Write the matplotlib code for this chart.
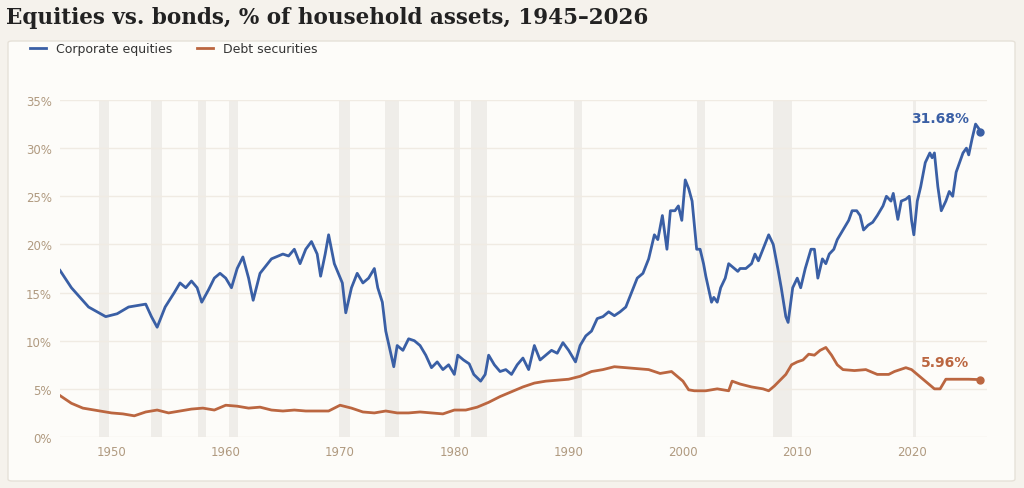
import matplotlib.pyplot as plt
from matplotlib.patches import FancyBboxPatch

# Datos
eq_years = [1945.5, 1946.5, 1948, 1949.5, 1950.5, 1951.5, 1953, 1953.5, 1954, 1954.7, 1955.5, 1956, 1956.5, 1957, 1957.5,
            1957.9, 1958.5, 1959, 1959.5, 1960, 1960.5, 1961, 1961.5, 1962, 1962.4, 1963, 1964, 1965, 1965.5, 1966,
            1966.5, 1967, 1967.5, 1968, 1968.3, 1968.7, 1969, 1969.5, 1970.2, 1970.5, 1971, 1971.5, 1972, 1972.5, 1973,
            1973.3, 1973.7, 1974, 1974.7, 1975, 1975.5, 1976, 1976.5, 1977, 1977.5, 1978, 1978.5, 1979, 1979.5, 1980,
            1980.3, 1980.8, 1981.3, 1981.7, 1982.3, 1982.7, 1983, 1983.5, 1984, 1984.5, 1985, 1985.5, 1986, 1986.5,
            1987, 1987.5, 1988, 1988.5, 1989, 1989.5, 1990, 1990.6, 1991, 1991.5, 1992, 1992.5, 1993, 1993.5, 1994,
            1994.5, 1995, 1995.5, 1996, 1996.5, 1997, 1997.5, 1997.8, 1998.2, 1998.6, 1998.9, 1999.3, 1999.6, 1999.9,
            2000.2, 2000.5, 2000.8, 2001, 2001.2, 2001.5, 2001.8, 2002, 2002.5, 2002.7, 2003, 2003.3, 2003.7, 2004,
            2004.5, 2004.8, 2005, 2005.5, 2006, 2006.3, 2006.6, 2007, 2007.5, 2007.9, 2008.3, 2008.6, 2009.0, 2009.2,
            2009.6, 2010, 2010.3, 2010.7, 2011.2, 2011.5, 2011.8, 2012.2, 2012.5, 2012.8, 2013.2, 2013.5, 2014, 2014.5,
            2014.8, 2015.2, 2015.5, 2015.8, 2016.2, 2016.6, 2017, 2017.5, 2017.8, 2018.2, 2018.4, 2018.8, 2019.1,
            2019.5, 2019.8, 2020.0, 2020.2, 2020.5, 2020.8, 2021.2, 2021.6, 2021.8, 2022.0, 2022.3, 2022.6, 2023.0,
            2023.3, 2023.6, 2023.9, 2024.2, 2024.5, 2024.8, 2025.0, 2025.3, 2025.6, 2025.9, 2026.0]
eq_vals = [17.3, 15.5, 13.5, 12.5, 12.8, 13.5, 13.8, 12.5, 11.4, 13.5, 15.0, 16.0, 15.5, 16.2, 15.5,
           14.0, 15.3, 16.5, 17.0, 16.5, 15.5, 17.5, 18.7, 16.5, 14.2, 17.0, 18.5, 19.0, 18.8, 19.5,
           18.0, 19.5, 20.3, 19.0, 16.7, 19.0, 21.0, 18.0, 16.0, 12.9, 15.5, 17.0, 16.0, 16.5, 17.5,
           15.5, 14.0, 11.0, 7.3, 9.5, 9.0, 10.2, 10.0, 9.5, 8.5, 7.2, 7.8, 7.0, 7.5, 6.5,
           8.5, 8.0, 7.6, 6.5, 5.8, 6.5, 8.5, 7.5, 6.8, 7.0, 6.5, 7.5, 8.2, 7.0,
           9.5, 8.0, 8.5, 9.0, 8.7, 9.8, 9.0, 7.8, 9.5, 10.5, 11.0, 12.3, 12.5, 13.0, 12.6,
           13.0, 13.5, 15.0, 16.5, 17.0, 18.5, 21.0, 20.5, 23.0, 19.5, 23.5, 23.5, 24.0, 22.5,
           26.7, 25.8, 24.5, 22.0, 19.5, 19.5, 18.0, 16.7, 14.0, 14.5, 14.0, 15.5, 16.5, 18.0,
           17.5, 17.2, 17.5, 17.5, 18.0, 19.0, 18.3, 19.5, 21.0, 20.0, 17.5, 15.5, 12.5, 11.9,
           15.5, 16.5, 15.5, 17.5, 19.5, 19.5, 16.5, 18.5, 18.0, 19.0, 19.5, 20.5, 21.5, 22.5,
           23.5, 23.5, 23.0, 21.5, 22.0, 22.3, 23.0, 24.0, 25.0, 24.5, 25.3, 22.6, 24.5,
           24.7, 25.0, 22.5, 21.0, 24.5, 26.0, 28.5, 29.5, 29.0, 29.5, 26.0, 23.5, 24.5,
           25.5, 25.0, 27.5, 28.5, 29.5, 30.0, 29.3, 31.0, 32.5, 32.0, 31.68]

debt_years = [1945.5, 1946.5, 1947.5, 1948.5, 1950, 1951, 1952, 1953, 1954, 1955, 1956, 1957, 1958, 1959, 1960,
              1961, 1962, 1963, 1964, 1965, 1966, 1967, 1968, 1969, 1970, 1971, 1972, 1973, 1974, 1975, 1976,
              1977, 1978, 1979, 1980, 1981, 1982, 1983, 1984, 1985, 1986, 1987, 1988, 1989, 1990, 1991, 1992,
              1993, 1994, 1995, 1996, 1997, 1998, 1999, 2000, 2000.5, 2001, 2002, 2003, 2004, 2004.3, 2005,
              2006, 2007, 2007.5, 2008, 2009, 2009.5, 2010, 2010.5, 2011, 2011.5, 2012, 2012.5, 2013, 2013.5,
              2014, 2015, 2016, 2017, 2018, 2018.5, 2019, 2019.5, 2020, 2020.5, 2021, 2021.5, 2022, 2022.5,
              2023, 2024, 2025, 2026]
debt_vals = [4.3, 3.5, 3.0, 2.8, 2.5, 2.4, 2.2, 2.6, 2.8, 2.5, 2.7, 2.9, 3.0, 2.8, 3.3,
             3.2, 3.0, 3.1, 2.8, 2.7, 2.8, 2.7, 2.7, 2.7, 3.3, 3.0, 2.6, 2.5, 2.7, 2.5, 2.5,
             2.6, 2.5, 2.4, 2.8, 2.8, 3.1, 3.6, 4.2, 4.7, 5.2, 5.6, 5.8, 5.9, 6.0, 6.3, 6.8,
             7.0, 7.3, 7.2, 7.1, 7.0, 6.6, 6.8, 5.8, 4.9, 4.8, 4.8, 5.0, 4.8, 5.8, 5.5,
             5.2, 5.0, 4.8, 5.3, 6.5, 7.5, 7.8, 8.0, 8.6, 8.5, 9.0, 9.3, 8.5, 7.5,
             7.0, 6.9, 7.0, 6.5, 6.5, 6.8, 7.0, 7.2, 7.0, 6.5, 6.0, 5.5, 5.0, 5.0,
             6.0, 6.0, 6.0, 5.96]

recesiones = [(1948.9, 1949.8), (1953.5, 1954.4), (1957.6, 1958.3), (1960.3, 1961.1), (1969.9, 1970.9),
              (1973.9, 1975.2), (1980.0, 1980.5), (1981.5, 1982.9), (1990.5, 1991.2), (2001.2, 2001.9),
              (2007.9, 2009.5), (2020.1, 2020.4)]

azul = '#3a5fa5'
naranja = '#bb6640'
tick_color = '#b09a80'

fig = plt.figure(figsize=(10.24, 4.89), dpi=100, facecolor='#f5f2ec')
panel = FancyBboxPatch((8 / 1024, 7 / 489), 1007 / 1024, 440 / 489, boxstyle='round,pad=0,rounding_size=0.004',
                       transform=fig.transFigure, facecolor='#fdfcf9', edgecolor='#e6e1d8', linewidth=1, zorder=-10)
fig.patches.append(panel)

fig.text(6 / 1024, 1 - 18 / 489, 'Equities vs. bonds, % of household assets, 1945–2026', fontsize=15.5,
         family='DejaVu Serif', fontweight='bold', color='#222222', va='center')

ax = fig.add_axes([60 / 1024, 51 / 489, 927 / 1024, 337 / 489])
ax.set_facecolor('none')
ax.set_zorder(5)
for a, b in recesiones:
    ax.axvspan(a, b, color='#efede9', zorder=0, lw=0)
ax.plot(eq_years, eq_vals, color=azul, lw=2, zorder=3, label='Corporate equities')
ax.plot(debt_years, debt_vals, color=naranja, lw=2, zorder=3, label='Debt securities')
ax.plot(eq_years[-1], eq_vals[-1], 'o', color=azul, ms=5, zorder=4)
ax.plot(debt_years[-1], debt_vals[-1], 'o', color=naranja, ms=5, zorder=4)
ax.annotate(f'{eq_vals[-1]:.2f}%', (eq_years[-1], eq_vals[-1]), xytext=(-8, 10), textcoords='offset points',
            ha='right', va='center', color=azul, fontsize=10, fontweight='bold')
ax.annotate(f'{debt_vals[-1]:.2f}%', (debt_years[-1], debt_vals[-1]), xytext=(-8, 13), textcoords='offset points',
            ha='right', va='center', color=naranja, fontsize=10, fontweight='bold')

ax.set_xlim(1945.5, 2026.6)
ax.set_ylim(0, 35)
ax.set_yticks(range(0, 36, 5))
ax.set_yticklabels([f'{v}%' for v in range(0, 36, 5)])
ax.set_xticks(range(1950, 2021, 10))
ax.grid(axis='y', color='#f0ebe3', lw=1, zorder=1)
ax.tick_params(colors=tick_color, labelsize=8.5, length=0, pad=6)
for s in ax.spines.values():
    s.set_visible(False)

ax.legend(loc='lower left', bbox_to_anchor=(-0.045, 1.1), ncol=2, frameon=False, fontsize=9, handlelength=1.3,
          columnspacing=2, labelcolor='#333333')

plt.savefig('out.png', dpi=100, facecolor=fig.get_facecolor())
